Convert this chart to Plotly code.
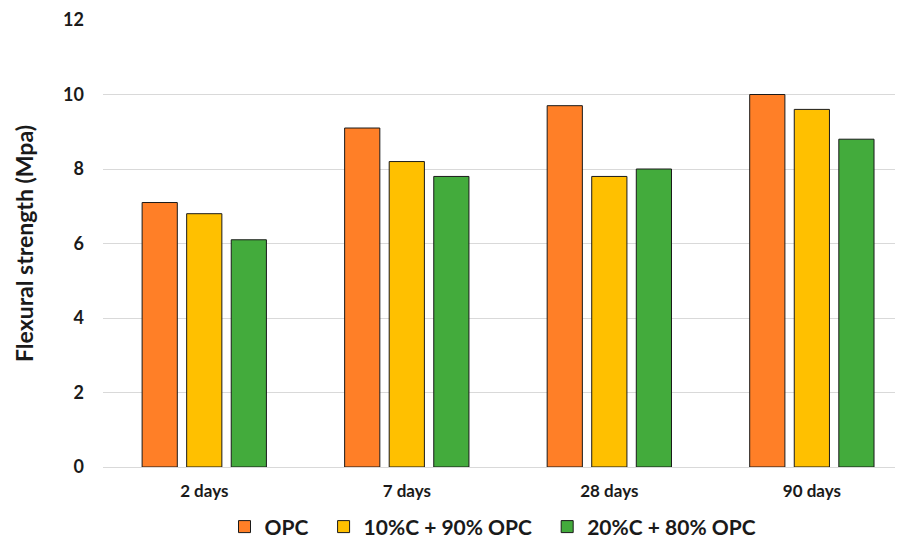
import plotly.graph_objects as go

categories = ["2 days", "7 days", "28 days", "90 days"]
series_names = ["OPC", "10%C + 90% OPC", "20%C + 80% OPC"]
opc = [7.1, 9.1, 9.7, 10.0]
c10 = [6.8, 8.2, 7.8, 9.6]
c20 = [6.1, 7.8, 8.0, 8.8]
colors = ["#FF7F27", "#FFC000", "#43AB3C"]
y_ticks = [0, 2, 4, 6, 8, 10, 12]

FONT = "Lato"
PAD = "\u00a0\u00a0"

fig = go.Figure()
for i, (name, vals, col) in enumerate(zip(series_names, [opc, c10, c20], colors)):
    label = name + (PAD if i < len(series_names) - 1 else "")
    fig.add_trace(go.Bar(
        x=categories, y=vals, name=label,
        marker=dict(color=col, line=dict(color="#1a1a1a", width=1)),
        hovertemplate="%{x}: %{y}<extra>" + name + "</extra>",
    ))

fig.update_layout(
    width=895, height=535,
    margin=dict(l=95, r=0, t=12, b=76),
    paper_bgcolor="white", plot_bgcolor="white",
    barmode="group", bargap=0.34, bargroupgap=0.21,
    font=dict(family=FONT, color="#1a1a1a"),
    xaxis=dict(
        type="category", range=[-0.5, 3.45],
        showgrid=False, showline=True, linecolor="#d9d9d9", linewidth=1,
        ticks="", tickfont=dict(family=FONT, size=17, color="#1a1a1a", weight="bold"),
        ticklabelstandoff=9,
    ),
    yaxis=dict(
        range=[0, 12], tickvals=y_ticks, showgrid=True, gridcolor="#d9d9d9", gridwidth=1,
        zeroline=False, showline=False, ticks="",
        tickfont=dict(family=FONT, size=18, color="#1a1a1a", weight="bold"),
        ticklabelstandoff=18,
        title=dict(text="Flexural strength (Mpa)",
                   font=dict(family=FONT, size=23, color="#1a1a1a", weight="bold"),
                   standoff=23),
    ),
    legend=dict(
        orientation="h", x=0.4875, xanchor="center",
        yref="container", y=0.03, yanchor="middle",
        font=dict(family=FONT, size=21, color="#1a1a1a", weight="bold"),
        itemwidth=30, traceorder="normal",
    ),
)

fig.write_html("out.html")
